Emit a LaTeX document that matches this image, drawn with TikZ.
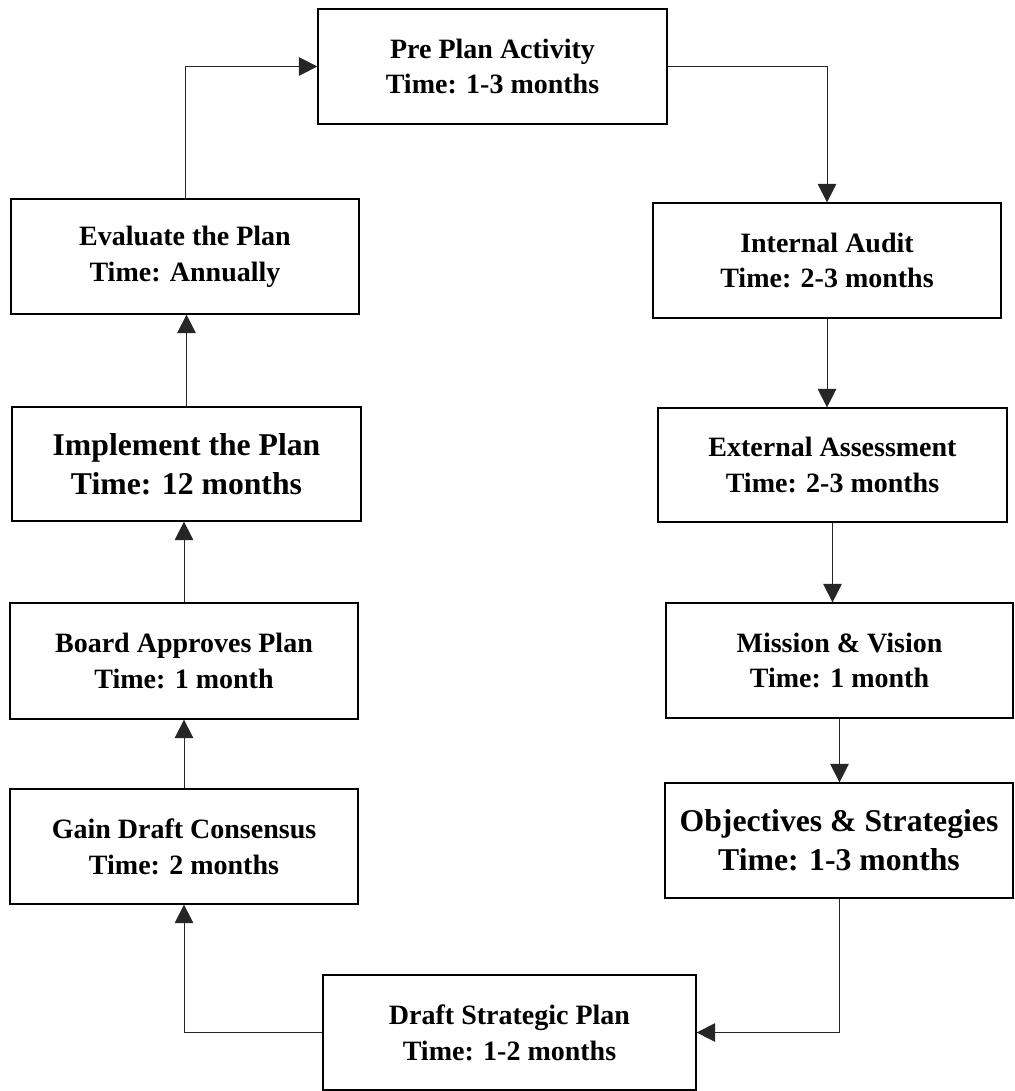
\documentclass[tikz,border=0pt]{standalone}
\usepackage{fontspec}
\setmainfont{Liberation Serif}
\usetikzlibrary{arrows.meta}

\tikzset{
  stage/.style={draw=black, line width=1.2pt, fill=white, inner sep=0pt,
    align=center, font=\bfseries\fontsize{28}{35.7}\selectfont,
    minimum width=348pt, minimum height=115pt},
  stagebig/.style={stage, font=\bfseries\fontsize{31.7}{39}\selectfont},
  flow/.style={draw=black!85, line width=1pt,
    -{Triangle[length=18.5pt,width=18.5pt]}}
}

\begin{document}
\begin{tikzpicture}[x=1pt, y=-1pt]
  \useasboundingbox (0,0) rectangle (1014,1091);

  % stages of the planning cycle
  \node[stage, minimum width=349pt] (pre) at (492.5,66.5) {Pre Plan Activity\\Time: 1-3 months};
  \node[stage] (intaud) at (827,260.5) {Internal Audit\\Time: 2-3 months};
  \node[stage, minimum width=349pt, minimum height=114pt] (ext) at (832.5,465) {External Assessment\\Time: 2-3 months};
  \node[stage, minimum width=347pt] (mission) at (839.5,660.5) {Mission \& Vision\\Time: 1 month};
  \node[stagebig] (obj) at (839,840.5) {Objectives \& Strategies\\Time: 1-3 months};
  \node[stage, minimum width=373pt] (draft) at (509.5,1032.5) {Draft Strategic Plan\\Time: 1-2 months};
  \node[stage] (gain) at (184,846.5) {Gain Draft Consensus\\Time: 2 months};
  \node[stage, minimum height=116pt] (board) at (184,661) {Board Approves Plan\\Time: 1 month};
  \node[stagebig, minimum width=349pt, minimum height=114pt] (impl) at (186.5,464) {Implement the Plan\\Time: 12 months};
  \node[stage] (eval) at (185,256.5) {Evaluate the Plan\\Time: Annually};

  % connectors
  \draw[flow] (pre.east) -| (intaud.north);
  \draw[flow] (intaud.south) -- (intaud.south |- ext.north);
  \draw[flow] (ext.south) -- (ext.south |- mission.north);
  \draw[flow] (mission.south) -- (mission.south |- obj.north);
  \draw[flow] (obj.south) |- (draft.east);
  \draw[flow] (draft.west) -| (gain.south);
  \draw[flow] (gain.north) -- (board.south);
  \draw[flow] (board.north) -- (board.north |- impl.south);
  \draw[flow] (impl.north) -- (impl.north |- eval.south);
  \draw[flow] (eval.north) |- (pre.west);
\end{tikzpicture}
\end{document}
